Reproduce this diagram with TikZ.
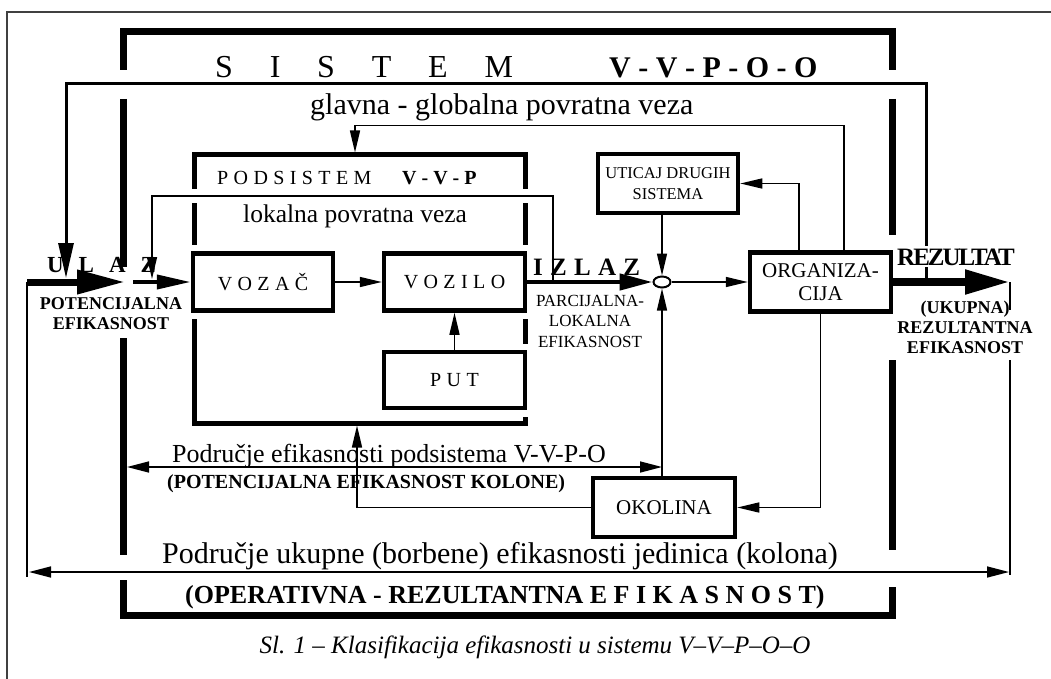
\documentclass[tikz,border=0pt]{standalone}
\usepackage{fontspec}
\setmainfont{Liberation Serif}
\usetikzlibrary{arrows.meta,shapes.geometric}

\begin{document}
\begin{tikzpicture}[x=1pt,y=-1pt,
  box/.style={draw,line width=4.5pt,fill=white,inner sep=0pt,align=center},
  halo/.style={preaction={draw=white,line width=17pt}},
  frame/.style={line width=7pt},
  conn/.style={line width=1.5pt,-{Triangle[length=22pt,width=10pt]}},
  span/.style={line width=1.5pt,{Triangle[length=22pt,width=11pt]}-{Triangle[length=22pt,width=11pt]}},
  lbl/.style={inner sep=0pt,anchor=base west},
  wide/.style={font=\fontsize{20}{24}\selectfont\addfontfeatures{LetterSpace=27}}]
\useasboundingbox (0,0) rectangle (1051,679);

% Page border
\draw[line width=1.2pt,black!75] (7,679) -- (7,12) -- (1051,12);

% System frame (broken where arrows and labels pass)
\draw[frame] (123,70) -- (123,32) -- (892,32) -- (892,70);
\draw[frame] (123,99) -- (123,267);
\draw[frame] (123,338) -- (123,555);
\draw[frame] (123,580) -- (123,615) -- (892,615) -- (892,587);
\draw[frame] (892,99) -- (892,235);
\draw[frame] (892,360) -- (892,550);

% Subsystem V-V-P
\node[draw,line width=5pt,inner sep=0pt,minimum width=331pt,minimum height=268pt] (podsys) at (359.5,289) {};
\node[box,halo,wide,minimum width=140pt,minimum height=57pt] (vozac) at (263,282) {VOZAČ};
\node[box,halo,wide,minimum width=141pt,minimum height=57pt] (vozilo) at (454.5,282) {VOZILO};
\node[box,halo,wide,minimum width=141pt,minimum height=56pt] (put) at (454.5,380) {PUT};

% Other blocks
\node[box,font=\fontsize{16.5}{21}\selectfont,minimum width=140pt,minimum height=59pt] (uticaj) at (668,183.5) {UTICAJ DRUGIH\\SISTEMA};
\node[box,font=\fontsize{21}{23}\selectfont,minimum width=141pt,minimum height=59pt] (org) at (820.5,282) {ORGANIZA-\\CIJA};
\node[box,font=\fontsize{21}{25}\selectfont,minimum width=142pt,minimum height=59pt] (okolina) at (664,507.5) {OKOLINA};
\node[draw,ellipse,line width=2pt,inner sep=0pt,minimum width=17pt,minimum height=11pt] (sum) at (662,282) {};

% Free ends
\coordinate (in) at (27,282);
\coordinate (ulazA) at (125,282);
\coordinate (ulazB) at (133,282);
\coordinate (inEnd) at (27,577);
\coordinate (out) at (1010,282);
\coordinate (outB) at (1010,360);
\coordinate (outEnd) at (1010,575);
\coordinate (fb) at (926,282);
\coordinate (glTip) at (66,278);
\coordinate (loc) at (553,282);
\coordinate (locTip) at (152,279);
\coordinate (subL) at (127,467);
\coordinate (totL) at (29,572);
\coordinate (totR) at (1009,572);

% Local feedback
\draw[conn,preaction={draw=white,line width=14pt,-}] (loc) -- ++(0,-86) -| (locTip);

% Global feedback
\draw[line width=3pt,-{Triangle[length=35pt,width=15pt]}] (fb) -- ++(0,-198) -| (glTip);

% Inputs
\draw[line width=7pt,-{Triangle[length=48pt,width=23pt]}] (in) -- (ulazA);
\draw[line width=4pt,-{Triangle[length=34pt,width=14pt]}] (ulazB) -- (vozac.west);
\draw[line width=1.5pt] (in) -- (inEnd);

% Inside the subsystem
\draw[conn] (vozac) -- (vozilo);
\draw[conn] (put) -- (vozilo);
\draw[line width=4.5pt,-{Triangle[length=33pt,width=16pt]}] (vozilo) -- (sum);

% Around the junction
\draw[conn] (uticaj.south -| sum) -- (sum);
\draw[conn] (okolina.north -| sum) -- (sum);
\draw[conn] (sum) -- (org);
\draw[conn] ([xshift=-21.5pt]org.north) |- (uticaj);
\draw[conn] ([xshift=23.5pt]org.north) |- ([xshift=-4.5pt,yshift=27pt]podsys.north) -- ([xshift=-4.5pt]podsys.north);
\draw[conn] (org) |- (okolina);
\draw[conn] (okolina) -| ([xshift=-2.5pt]podsys.south);

% Efficiency spans
\draw[span] (subL) -- (subL -| sum);
\draw[span] (totL) -- (totR);

% Result
\draw[line width=8pt,-{Triangle[length=45pt,width=23pt]}] (org) -- (out);
\draw[line width=1.5pt] (out) -- ++(0,28);
\draw[line width=1.5pt] (outB) -- (outEnd);

% Labels
\node[lbl,font=\fontsize{32}{38}\selectfont\addfontfeatures{LetterSpace=115}] (sysTitle) at (215,78) {SISTEM};
\node[lbl,font=\fontsize{30}{36}\selectfont\bfseries] (sysName) at (609,78) {V - V - P - O - O};
\node[lbl,font=\fontsize{30}{36}\selectfont] (glLabel) at (310,115) {glavna - globalna povratna veza};
\node[lbl,wide] (subTitle) at (217,185) {PODSISTEM};
\node[lbl,font=\fontsize{20}{24}\selectfont\bfseries] (subName) at (402,185) {V - V - P};
\node[lbl,font=\fontsize{25.5}{30}\selectfont] (locLabel) at (243,222) {lokalna povratna veza};
\node[lbl,font=\fontsize{23}{28}\selectfont\bfseries\addfontfeatures{LetterSpace=65}] (ulaz) at (47,272) {ULAZ};
\node[inner sep=0pt,align=center,font=\fontsize{18}{20}\selectfont\bfseries] (potEff) at (111,314) {POTENCIJALNA\\EFIKASNOST};
\node[lbl,font=\fontsize{25}{30}\selectfont\bfseries\addfontfeatures{LetterSpace=29}] (izlaz) at (533,275) {IZLAZ};
\node[inner sep=0pt,align=center,font=\fontsize{17}{20.5}\selectfont] (parEff) at (590,321) {PARCIJALNA-\\LOKALNA\\EFIKASNOST};
\node[lbl,fill=white,inner sep=2pt,font=\fontsize{25}{30}\selectfont\bfseries\addfontfeatures{LetterSpace=-8}] (rez) at (895,265) {REZULTAT};
\node[inner sep=0pt,align=center,font=\fontsize{18}{20}\selectfont\bfseries] (ukEff) at (965,327) {(UKUPNA)\\REZULTANTNA\\EFIKASNOST};
\node[lbl,font=\fontsize{26}{31}\selectfont] (subArea) at (172,462) {Područje efikasnosti podsistema V-V-P-O};
\node[lbl,font=\fontsize{20}{24}\selectfont\bfseries] (subAreaB) at (167,488) {(POTENCIJALNA EFIKASNOST KOLONE)};
\node[lbl,font=\fontsize{30}{36}\selectfont] (totArea) at (162,563) {Područje ukupne (borbene) efikasnosti jedinica (kolona)};
\node[lbl,font=\fontsize{26}{31}\selectfont\bfseries] (totAreaB) at (185,603) {(OPERATIVNA - REZULTANTNA E F I K A S N O S T)};
\node[inner sep=0pt,anchor=base,font=\fontsize{25}{30}\selectfont\itshape] (caption) at (535,653) {Sl. 1 – Klasifikacija efikasnosti u sistemu V–V–P–O–O};
\end{tikzpicture}
\end{document}
